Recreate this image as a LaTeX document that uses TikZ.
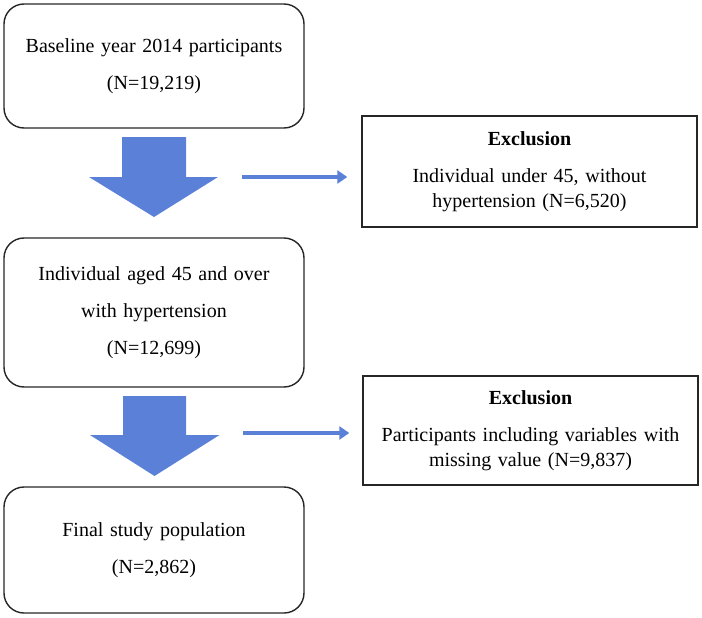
\documentclass[tikz,border=0pt]{standalone}
\usepackage{fontspec}
\setmainfont{Liberation Serif}
\usepackage{tikz}
\usetikzlibrary{shapes,arrows.meta,positioning,calc}
\definecolor{flowblue}{HTML}{5B80D7}
\definecolor{boxline}{HTML}{262626}

\begin{document}
\begin{tikzpicture}[
    stagebox/.style={draw=boxline, line width=1.4pt, rounded corners=20pt, minimum width=300pt, inner sep=0pt, text width=290pt, align=center, font=\fontsize{20}{37}\selectfont},
    exclbox/.style={draw=boxline, line width=1.4pt, minimum width=335pt, inner sep=0pt, text width=325pt, align=center, font=\fontsize{20}{25}\selectfont},
    sidearrow/.style={draw=flowblue, line width=3.5pt, -{Triangle[length=10pt,width=13pt]}}
]
\useasboundingbox (0,0) rectangle (702pt,-618pt);

% left column
\node[stagebox, minimum height=124pt] (base) at (154pt,-66pt) {
    Baseline year 2014 participants\\
    (N=19,219)
};
\node[stagebox, minimum height=149pt] (aged) at (154pt,-312.5pt) {
    Individual aged 45 and over\\
    with hypertension\\
    (N=12,699)
};
\node[stagebox, minimum height=126pt] (final) at (154pt,-550pt) {
    Final study population\\
    (N=2,862)\\[6pt]
};

% exclusions
\node[exclbox, minimum height=111pt] (excl1) at (529.5pt,-171.5pt) {
    {\bfseries Exclusion}\\[12pt]
    Individual under 45, without\\
    hypertension (N=6,520)\\[14pt]
};
\node[exclbox, minimum height=109pt] (excl2) at (530.5pt,-430.5pt) {
    {\bfseries Exclusion}\\[12pt]
    Participants including variables with\\
    missing value (N=9,837)\\[14pt]
};

% block arrows
\coordinate (down1) at (154pt,-137pt);
\fill[flowblue] ($(down1)+(-32pt,0)$) -- ($(down1)+(32pt,0)$) -- ($(down1)+(32pt,-40pt)$) -- ($(down1)+(64pt,-40pt)$)
    -- ($(down1)+(0,-80pt)$) -- ($(down1)+(-65pt,-40pt)$) -- ($(down1)+(-32pt,-40pt)$) -- cycle;
\coordinate (down2) at (154.5pt,-396pt);
\fill[flowblue] ($(down2)+(-31.5pt,0)$) -- ($(down2)+(31.5pt,0)$) -- ($(down2)+(31.5pt,-39pt)$) -- ($(down2)+(65pt,-39pt)$)
    -- ($(down2)+(0,-80pt)$) -- ($(down2)+(-64.5pt,-39pt)$) -- ($(down2)+(-31.5pt,-39pt)$) -- cycle;

% side arrows
\coordinate (side1) at (242pt,-177pt);
\coordinate (side2) at (243pt,-433pt);
\draw[sidearrow, shorten >=14pt] (side1) -- (side1 -| excl1.west);
\draw[sidearrow, shorten >=13pt] (side2) -- (side2 -| excl2.west);
\end{tikzpicture}
\end{document}
